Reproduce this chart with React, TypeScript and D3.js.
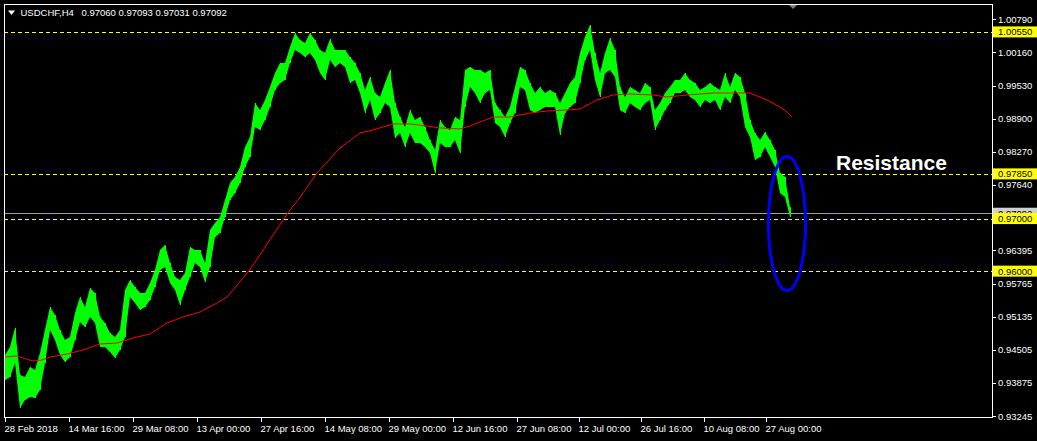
import React from "react"
import * as d3 from "d3"

// header of the MT4 window
const symbolTitle = "USDCHF,H4"
const lastQuote = ["0.97060", "0.97093", "0.97031", "0.97092"]

// one sample every 5 H4 bars, bar 0 = 28 Feb 2018 00:00
const highs = [
  0.94405, 0.94557, 0.94919, 0.94025, 0.93987, 0.94177, 0.9412, 0.94443, 0.94881, 0.95318,
  0.95166, 0.94881, 0.94691, 0.94748, 0.95204, 0.95508, 0.95318, 0.9568, 0.95584, 0.95128,
  0.95014, 0.94824, 0.94748, 0.94881, 0.95642, 0.95832, 0.95699, 0.95584, 0.95584, 0.95775,
  0.96022, 0.96402, 0.96497, 0.96155, 0.95889, 0.95832, 0.95965, 0.96459, 0.96402, 0.96402,
  0.96155, 0.96783, 0.96916, 0.9703, 0.97353, 0.97677, 0.97791, 0.97981, 0.98361, 0.98551,
  0.99198, 0.99065, 0.99255, 0.99502, 0.99769, 0.99959, 0.99959, 1.00263, 1.00529, 1.00396,
  1.00339, 1.00529, 1.00396, 1.00206, 1.00149, 1.00415, 1.00206, 1.00206, 1.00206, 1.00073,
  0.99959, 0.99769, 0.99445, 0.99693, 0.99388, 0.99312, 0.99578, 0.99826, 0.99198, 0.98932,
  0.98742, 0.99065, 0.98875, 0.98932, 0.98742, 0.98494, 0.98304, 0.98875, 0.98742, 0.98685,
  0.98932, 0.98875, 0.99826, 0.99883, 0.99826, 0.99826, 0.99769, 0.99826, 0.99198, 0.99065,
  0.98932, 0.99122, 0.99502, 0.99883, 0.99826, 0.99578, 0.99388, 0.99502, 0.99388, 0.99445,
  0.99388, 0.99198, 0.99388, 0.99578, 0.99693, 1.00149, 1.00453, 1.00682, 1.00149, 0.99769,
  1.00149, 1.00434, 1.00206, 0.99502, 0.99312, 0.99502, 0.99445, 0.99388, 0.99578, 0.99502,
  0.99065, 0.99198, 0.99388, 0.99502, 0.99636, 0.99636, 0.99769, 0.99636, 0.99578, 0.99445,
  0.99502, 0.99578, 0.99502, 0.99445, 0.99769, 0.99502, 0.99769, 0.99693, 0.99388, 0.98875,
  0.98628, 0.98494, 0.98647, 0.98494, 0.98304, 0.97867, 0.97791, 0.9722,
]
const lows = [
  0.9393, 0.93987, 0.94253, 0.93397, 0.93549, 0.93606, 0.93587, 0.9374, 0.94253, 0.94881,
  0.94691, 0.94405, 0.94272, 0.94367, 0.94691, 0.95033, 0.94938, 0.95128, 0.95014, 0.94557,
  0.94557, 0.94462, 0.94348, 0.945, 0.94748, 0.95508, 0.95394, 0.95261, 0.95318, 0.95451,
  0.95699, 0.96022, 0.96079, 0.95775, 0.95642, 0.95356, 0.95642, 0.95889, 0.96155, 0.96079,
  0.95794, 0.96079, 0.9665, 0.96726, 0.9703, 0.97353, 0.97486, 0.97677, 0.97981, 0.98171,
  0.98742, 0.98685, 0.98875, 0.99122, 0.99445, 0.99578, 0.99636, 0.99959, 1.00206, 1.00149,
  1.00073, 1.00149, 1.00016, 0.99769, 0.99636, 1.00016, 0.99883, 0.99959, 0.99883, 0.99578,
  0.99636, 0.99388, 0.99008, 0.99255, 0.98875, 0.99008, 0.99198, 0.99122, 0.98532, 0.98628,
  0.98361, 0.98628, 0.98437, 0.98437, 0.98361, 0.98247, 0.97867, 0.98437, 0.98361, 0.98361,
  0.98494, 0.98247, 0.99122, 0.99502, 0.99388, 0.99198, 0.99388, 0.99445, 0.98818, 0.98742,
  0.98551, 0.98818, 0.99008, 0.99502, 0.99445, 0.99065, 0.99008, 0.99065, 0.99122, 0.99122,
  0.99122, 0.98589, 0.99008, 0.99122, 0.99198, 0.99578, 1.00016, 1.00206, 0.99636, 0.99312,
  0.99769, 0.99826, 0.99693, 0.99065, 0.99008, 0.99198, 0.99122, 0.99065, 0.99198, 0.99255,
  0.98685, 0.98875, 0.99065, 0.99198, 0.99388, 0.99388, 0.99445, 0.99312, 0.99255, 0.99122,
  0.99255, 0.99198, 0.99255, 0.99065, 0.99312, 0.99198, 0.99445, 0.99312, 0.98742, 0.98551,
  0.98114, 0.98171, 0.98361, 0.98171, 0.97981, 0.97486, 0.9741, 0.9703,
]

// red moving average, read at a few bars
const maBars = [
  0, 12, 28, 37, 45, 62, 78, 95, 112, 128, 145, 162, 178, 195, 212, 222, 228, 243, 255, 270,
  285, 293, 312, 335, 355, 368, 388, 405, 422, 435, 455, 465, 475, 488, 505, 525, 542, 562,
  575, 592, 608, 625, 648, 662, 682, 708, 735, 745, 762, 775, 782, 787,
]
const maValues = [
  0.94367, 0.94386, 0.94291, 0.9431, 0.94367, 0.94424, 0.945, 0.94614, 0.94633, 0.94729,
  0.94805, 0.95014, 0.95128, 0.95223, 0.95394, 0.95508, 0.95642, 0.95984, 0.96307, 0.96745,
  0.97163, 0.97353, 0.97867, 0.98342, 0.98628, 0.98685, 0.98799, 0.98799, 0.98761, 0.98723,
  0.98704, 0.98761, 0.98837, 0.98932, 0.98932, 0.99008, 0.99046, 0.99065, 0.99084, 0.99255,
  0.9935, 0.99369, 0.9935, 0.99312, 0.9935, 0.99388, 0.99388, 0.99388, 0.99255, 0.99122,
  0.99027, 0.98932,
]

const timeLabels = [
  "28 Feb 2018", "14 Mar 16:00", "29 Mar 08:00", "13 Apr 00:00", "27 Apr 16:00",
  "14 May 08:00", "29 May 00:00", "12 Jun 16:00", "27 Jun 08:00", "12 Jul 00:00",
  "26 Jul 16:00", "10 Aug 08:00", "27 Aug 00:00",
]
const timeLabelBars = [0, 64, 128, 192, 256, 320, 384, 448, 512, 574, 636, 699, 761]

const priceTicks = [
  1.0079, 1.0016, 0.9953, 0.989, 0.9827, 0.9764, 0.96395, 0.95765, 0.95135, 0.94505,
  0.93875, 0.93245,
]
const levelLines = [1.0055, 0.9785, 0.97, 0.96]
const bidPrice = 0.97092

const W = 1037
const H = 441
const plot = { left: 4, right: 992, top: 4, bottom: 417 }
const font = "'Liberation Sans', Arial, sans-serif"

export default function App() {
  const x = d3.scaleLinear().domain([0, 987]).range([plot.left + 1, plot.right])
  const y = d3.scaleLinear().domain([0.93245, 1.0079]).range([416, 19.3])
  const sampleBars = highs.map((_, i) => i * 5)

  const band = d3
    .area<number>()
    .x((_, i) => x(sampleBars[i]))
    .y0((_, i) => y(lows[i]))
    .y1((_, i) => y(highs[i]))
  const ma = d3
    .line<number>()
    .x((_, i) => x(maBars[i]))
    .y(d => y(d))

  const fmt = (v: number) => v.toFixed(5)
  const lastX = x(sampleBars[sampleBars.length - 1])

  return (
    <div style={{ position: "fixed", left: 0, top: 0 }}>
      <svg width={W} height={H} style={{ display: "block", background: "#000" }}>
        <rect width={W} height={H} fill="#000" />
        <defs>
          <clipPath id="plotClip">
            <rect x={plot.left} y={plot.top} width={plot.right - plot.left} height={plot.bottom - plot.top} />
          </clipPath>
        </defs>

        <g clipPath="url(#plotClip)">
          {levelLines.map(v => (
            <line
              key={v}
              x1={plot.left}
              x2={plot.right}
              y1={Math.round(y(v)) + 0.5}
              y2={Math.round(y(v)) + 0.5}
              stroke="#ffff00"
              strokeDasharray="4,3"
            />
          ))}
          <line
            x1={plot.left}
            x2={plot.right}
            y1={Math.round(y(bidPrice)) - 0.5}
            y2={Math.round(y(bidPrice)) - 0.5}
            stroke="#a0a0a0"
          />
          <path d={band(highs) ?? ""} fill="#00ff00" />
          {highs.map((h, i) => (
            <line
              key={i}
              x1={x(sampleBars[i]) + 0.5}
              x2={x(sampleBars[i]) + 0.5}
              y1={y(h)}
              y2={y(lows[i])}
              stroke="#00ff00"
              strokeWidth={1}
            />
          ))}
          <path d={ma(maValues) ?? ""} fill="none" stroke="#ff0000" strokeWidth={1} />

          <ellipse cx={lastX - 3} cy={223.5} rx={18.5} ry={67} fill="none" stroke="#0000ff" strokeWidth={3} />
          <text x={836} y={170} fill="#fff" fontFamily={font} fontWeight="bold" fontSize={21}>
            Resistance
          </text>

          <path d="M8,10.5 L15,10.5 L11.5,15 Z" fill="#fff" />
          <text x={20.5} y={16} fill="#fff" fontFamily={font} fontSize={9.5}>
            {symbolTitle}
          </text>
          <text x={81.5} y={16} fill="#fff" fontFamily={font} fontSize={9.5}>
            {lastQuote.join(" ")}
          </text>
          <path d="M788,4 L798,4 L793,9 Z" fill="#808080" />
        </g>

        {/* frame */}
        <rect
          x={plot.left + 0.5}
          y={plot.top + 0.5}
          width={plot.right - plot.left}
          height={plot.bottom - plot.top}
          fill="none"
          stroke="#fff"
        />

        {/* price axis */}
        {priceTicks.map(v => (
          <g key={v}>
            <line x1={plot.right} x2={plot.right + 4} y1={Math.round(y(v)) + 0.5} y2={Math.round(y(v)) + 0.5} stroke="#fff" />
            <text x={998} y={y(v) + 3.5} fill="#fff" fontFamily={font} fontSize={9.5}>
              {fmt(v)}
            </text>
          </g>
        ))}
        <rect x={plot.right + 1} y={y(bidPrice) - 6} width={44} height={12} fill="#d0d0d0" />
        <text x={998} y={y(bidPrice) + 3.5} fill="#000" fontFamily={font} fontSize={9.5}>
          {fmt(bidPrice)}
        </text>
        {levelLines.map(v => (
          <g key={v}>
            <rect x={plot.right + 1} y={y(v) - 5.5} width={44} height={11} fill="#ffff00" />
            <text x={998} y={y(v) + 3.5} fill="#000" fontFamily={font} fontSize={9.5}>
              {fmt(v)}
            </text>
          </g>
        ))}

        {/* time axis */}
        {timeLabelBars.map((b, i) => (
          <g key={b}>
            <line x1={Math.round(x(b)) + 0.5} x2={Math.round(x(b)) + 0.5} y1={plot.bottom} y2={plot.bottom + 5} stroke="#fff" />
            <text x={x(b) - 0.5} y={431.5} fill="#fff" fontFamily={font} fontSize={9.5}>
              {timeLabels[i]}
            </text>
          </g>
        ))}
      </svg>
    </div>
  )
}
